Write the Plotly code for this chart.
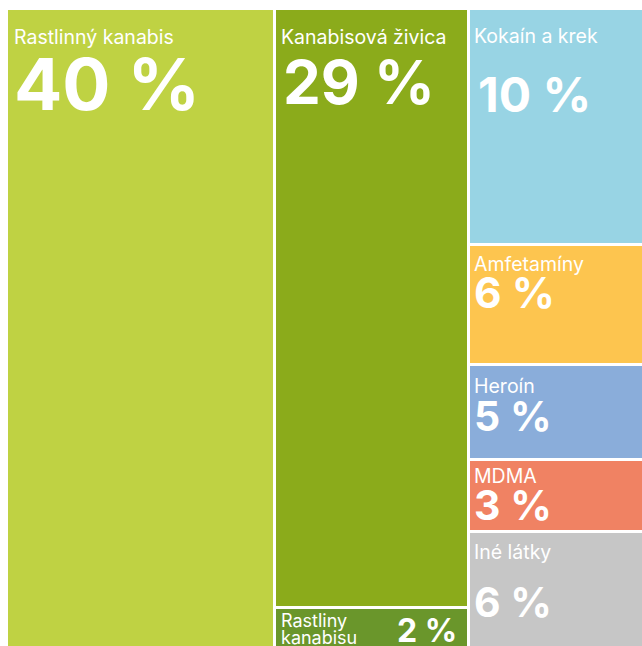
import plotly.graph_objects as go

# Záchyty drog - podiel podľa druhu (plochy odčítané z obrázka)
stlpec_1 = ["Rastlinný kanabis"]
stlpec_2 = ["Kanabisová živica", "Rastliny|kanabisu"]
stlpec_3 = ["Kokaín a krek", "Amfetamíny", "Heroín", "MDMA", "Iné látky"]

plocha_1 = [42.4]
plocha_2 = [28.6, 2.0]
plocha_3 = [10.2, 5.2, 4.1, 3.1, 5.1]

percenta_1 = ["40 %"]
percenta_2 = ["29 %", "2 %"]
percenta_3 = ["10 %", "6 %", "5 %", "3 %", "6 %"]

# styles per cell
farby = {
    "Rastlinný kanabis": "#bfd243",
    "Kanabisová živica": "#8bab1b",
    "Rastliny|kanabisu": "#6a962b",
    "Kokaín a krek": "#98d4e4",
    "Amfetamíny": "#fdc54f",
    "Heroín": "#8aadda",
    "MDMA": "#f08263",
    "Iné látky": "#c6c6c6",
}
# (name xshift, name yshift, name size, pct xshift, pct yshift, pct size)
texty = {
    "Rastlinný kanabis": (5.0, -14.8, 19.5, 5.5, -30.2, 71.5),
    "Kanabisová živica": (4.0, -14.1, 19.5, 5.5, -35.0, 60),
    "Rastliny|kanabisu": (4.0, -0.1, 18, -10.0, -1.8, 32),
    "Kokaín a krek": (3.0, -13.8, 19.5, 6.5, -54.9, 48),
    "Amfetamíny": (3.0, -5.8, 19.5, 3.0, -20.2, 42.5),
    "Heroín": (3.0, -6.8, 19.5, 3.0, -24.6, 41),
    "MDMA": (3.0, -1.8, 19.5, 3.0, -18.6, 41),
    "Iné látky": (3.0, -6.8, 19.5, 3.0, -43.6, 41),
}

FONT = "Inter, Liberation Sans, Arial, sans-serif"

stlpce = [
    (stlpec_1, plocha_1, percenta_1),
    (stlpec_2, plocha_2, percenta_2),
    (stlpec_3, plocha_3, percenta_3),
]

xs, widths, bases, heights, colors = [], [], [], [], []
annotations = []
x0 = 0.0
for nazvy, plochy, percenta in stlpce:
    sirka = sum(plochy)
    y0 = 0.0
    for nazov, hodnota, pct in zip(nazvy, plochy, percenta):
        h = hodnota / sirka
        xs.append(x0 + sirka / 2)
        widths.append(sirka)
        bases.append(y0)
        heights.append(h)
        colors.append(farby[nazov])

        nx, ny, ns, px, py, ps = texty[nazov]
        riadky = nazov.split("|")
        for i, riadok in enumerate(riadky):
            annotations.append(dict(
                x=x0, y=y0, xref="x", yref="y",
                text=riadok, showarrow=False,
                xanchor="left", yanchor="top",
                xshift=nx, yshift=ny - i * 17,
                font=dict(family=FONT, size=ns, color="white"),
            ))
        if len(riadky) > 1:
            # small cell: percentage on the right side
            annotations.append(dict(
                x=x0 + sirka, y=y0, xref="x", yref="y",
                text="<b>" + pct + "</b>", showarrow=False,
                xanchor="right", yanchor="top",
                xshift=px, yshift=py,
                font=dict(family=FONT, size=ps, color="white"),
            ))
        else:
            annotations.append(dict(
                x=x0, y=y0, xref="x", yref="y",
                text="<b>" + pct + "</b>", showarrow=False,
                xanchor="left", yanchor="top",
                xshift=px, yshift=py,
                font=dict(family=FONT, size=ps, color="white"),
            ))
        y0 += h
    x0 += sirka

fig = go.Figure()
fig.add_trace(go.Bar(
    x=xs,
    y=heights,
    base=bases,
    width=widths,
    marker=dict(color=colors, line=dict(color="white", width=3)),
    hoverinfo="skip",
    showlegend=False,
))

fig.update_layout(
    width=642,
    height=646,
    margin=dict(l=0, r=0, t=0, b=0),
    plot_bgcolor="white",
    paper_bgcolor="white",
    annotations=annotations,
    bargap=0,
)
fig.update_xaxes(visible=False, range=[-1.03, 100.25])
fig.update_yaxes(visible=False, range=[0.9945, -0.0133])

# page body has a default 8px margin; drop it so the figure fills the window
fig.write_html("out.html", config={"displayModeBar": False},
               post_script="document.body.style.margin='0';")
